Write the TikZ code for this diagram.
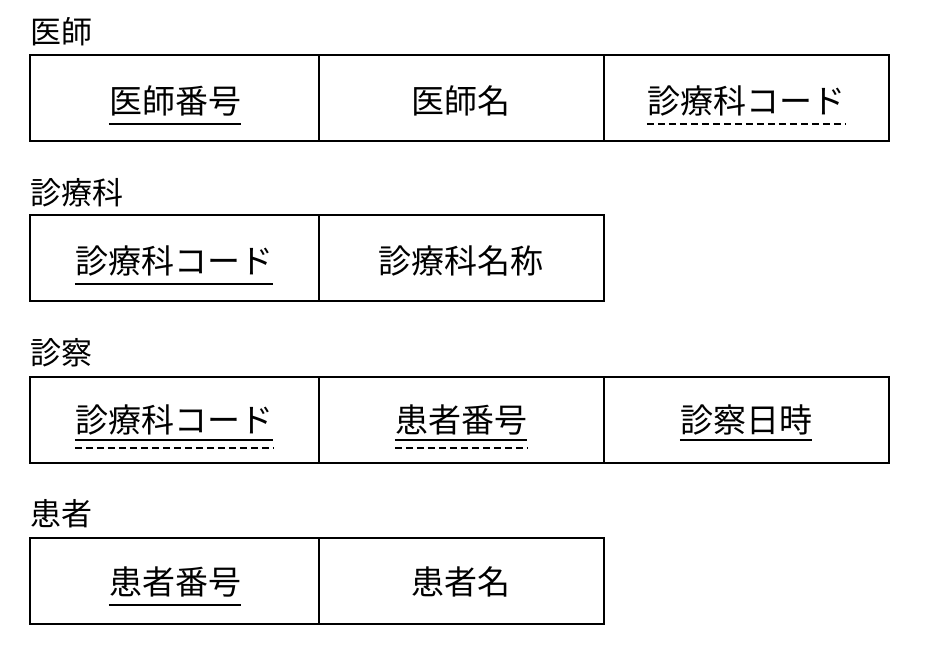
\documentclass[tikz,border=0pt]{standalone}
\usepackage{fontspec}
\newfontfamily\jp{Noto Sans CJK JP}
\begin{document}
\begin{tikzpicture}[x=1pt,y=-1pt,
  box/.style={draw,line width=2.2pt},
  lbl/.style={font=\jp\fontsize{33}{36}\selectfont,inner sep=0pt,anchor=base},
  ttl/.style={font=\jp\fontsize{31}{34}\selectfont,inner sep=0pt,anchor=base west},
  ul/.style={line width=2.6pt},
  dl/.style={line width=2.6pt,dash pattern=on 7pt off 4pt}]
\useasboundingbox (0,0) rectangle (936,648);
% 医師
\node[ttl] (t1) at (30,43) {医師};
\draw[box] (30,55) rectangle (889,141);
\draw[box] (319,55) -- (319,141);
\draw[box] (604,55) -- (604,141);
\node[lbl] (a1) at (175,113) {医師番号};
\node[lbl] (a2) at (461,113) {医師名};
\node[lbl] (a3) at (746,113) {診療科コード};
\draw[ul] ([yshift=-8]a1.south west) -- ([yshift=-8]a1.south east);
\draw[dl] ([yshift=-8]a3.south west) -- ([yshift=-8]a3.south east);
% 診療科
\node[ttl] (t2) at (30,204) {診療科};
\draw[box] (30,215) rectangle (604,301);
\draw[box] (319,215) -- (319,301);
\node[lbl] (b1) at (174,273) {診療科コード};
\node[lbl] (b2) at (461,273) {診療科名称};
\draw[ul] ([yshift=-8]b1.south west) -- ([yshift=-8]b1.south east);
% 診察
\node[ttl] (t3) at (30,364) {診察};
\draw[box] (30,377) rectangle (889,463);
\draw[box] (319,377) -- (319,463);
\draw[box] (604,377) -- (604,463);
\node[lbl] (c1) at (174,432) {診療科コード};
\node[lbl] (c2) at (461,432) {患者番号};
\node[lbl] (c3) at (746,432) {診察日時};
\draw[ul] ([yshift=-5]c1.south west) -- ([yshift=-5]c1.south east);
\draw[dl] ([yshift=-13]c1.south west) -- ([yshift=-13]c1.south east);
\draw[ul] ([yshift=-5]c2.south west) -- ([yshift=-5]c2.south east);
\draw[dl] ([yshift=-13]c2.south west) -- ([yshift=-13]c2.south east);
\draw[ul] ([yshift=-5]c3.south west) -- ([yshift=-5]c3.south east);
% 患者
\node[ttl] (t4) at (30,525) {患者};
\draw[box] (30,538) rectangle (604,624);
\draw[box] (319,538) -- (319,624);
\node[lbl] (d1) at (175,594) {患者番号};
\node[lbl] (d2) at (461,594) {患者名};
\draw[ul] ([yshift=-8]d1.south west) -- ([yshift=-8]d1.south east);
\end{tikzpicture}
\end{document}
